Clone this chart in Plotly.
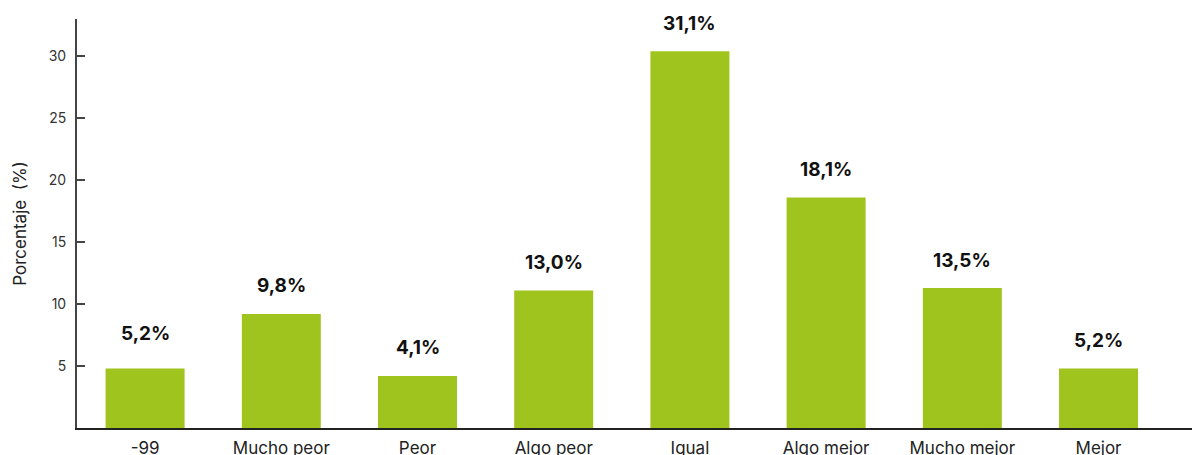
import plotly.graph_objects as go

categories = ["-99", "Mucho peor", "Peor", "Algo peor", "Igual", "Algo mejor", "Mucho mejor", "Mejor"]
bar_heights = [4.8, 9.2, 4.2, 11.1, 30.4, 18.6, 11.3, 4.8]
labels = ["5,2%", "9,8%", "4,1%", "13,0%", "31,1%", "18,1%", "13,5%", "5,2%"]
label_shift = [35, 28, 28, 28, 28, 28, 27, 28]
y_ticks = [5, 10, 15, 20, 25, 30]

BAR = "#9FC41E"

fig = go.Figure()
fig.add_trace(go.Bar(
    x=list(range(len(categories))),
    y=bar_heights,
    marker=dict(color=BAR, line=dict(width=0)),
    width=0.58,
    hoverinfo="skip",
))

for i, (h, t, s) in enumerate(zip(bar_heights, labels, label_shift)):
    fig.add_annotation(
        x=i, y=h, text=f"<b>{t}</b>", showarrow=False,
        yshift=s, yanchor="middle",
        font=dict(family="Inter", size=19, color="#111111"),
    )

fig.update_layout(
    width=1192, height=447,
    margin=dict(l=69, r=0, t=11, b=27, autoexpand=False),
    paper_bgcolor="white", plot_bgcolor="white",
    showlegend=False,
    font=dict(family="Inter", color="#222222"),
    xaxis=dict(
        range=[-0.5, 7.745],
        tickmode="array",
        tickvals=list(range(len(categories))),
        ticktext=categories,
        tickfont=dict(size=17, color="#222222"),
        showline=True, linecolor="#222222", linewidth=2,
        showgrid=False, zeroline=False, ticks="",
        ticklabelstandoff=4,
        fixedrange=True,
    ),
    yaxis=dict(
        range=[0, 33],
        tickmode="array",
        tickvals=y_ticks,
        tickfont=dict(size=14, color="#333333"),
        showline=True, linecolor="#444444", linewidth=2,
        ticks="inside", ticklen=8, tickcolor="#444444", tickwidth=1.5,
        showgrid=False, zeroline=False,
        ticklabelstandoff=6,
        title=dict(text="Porcentaje  (%)", font=dict(size=17, color="#222222"), standoff=18),
        automargin=False,
        fixedrange=True,
    ),
)

fig.write_html("out.html")
